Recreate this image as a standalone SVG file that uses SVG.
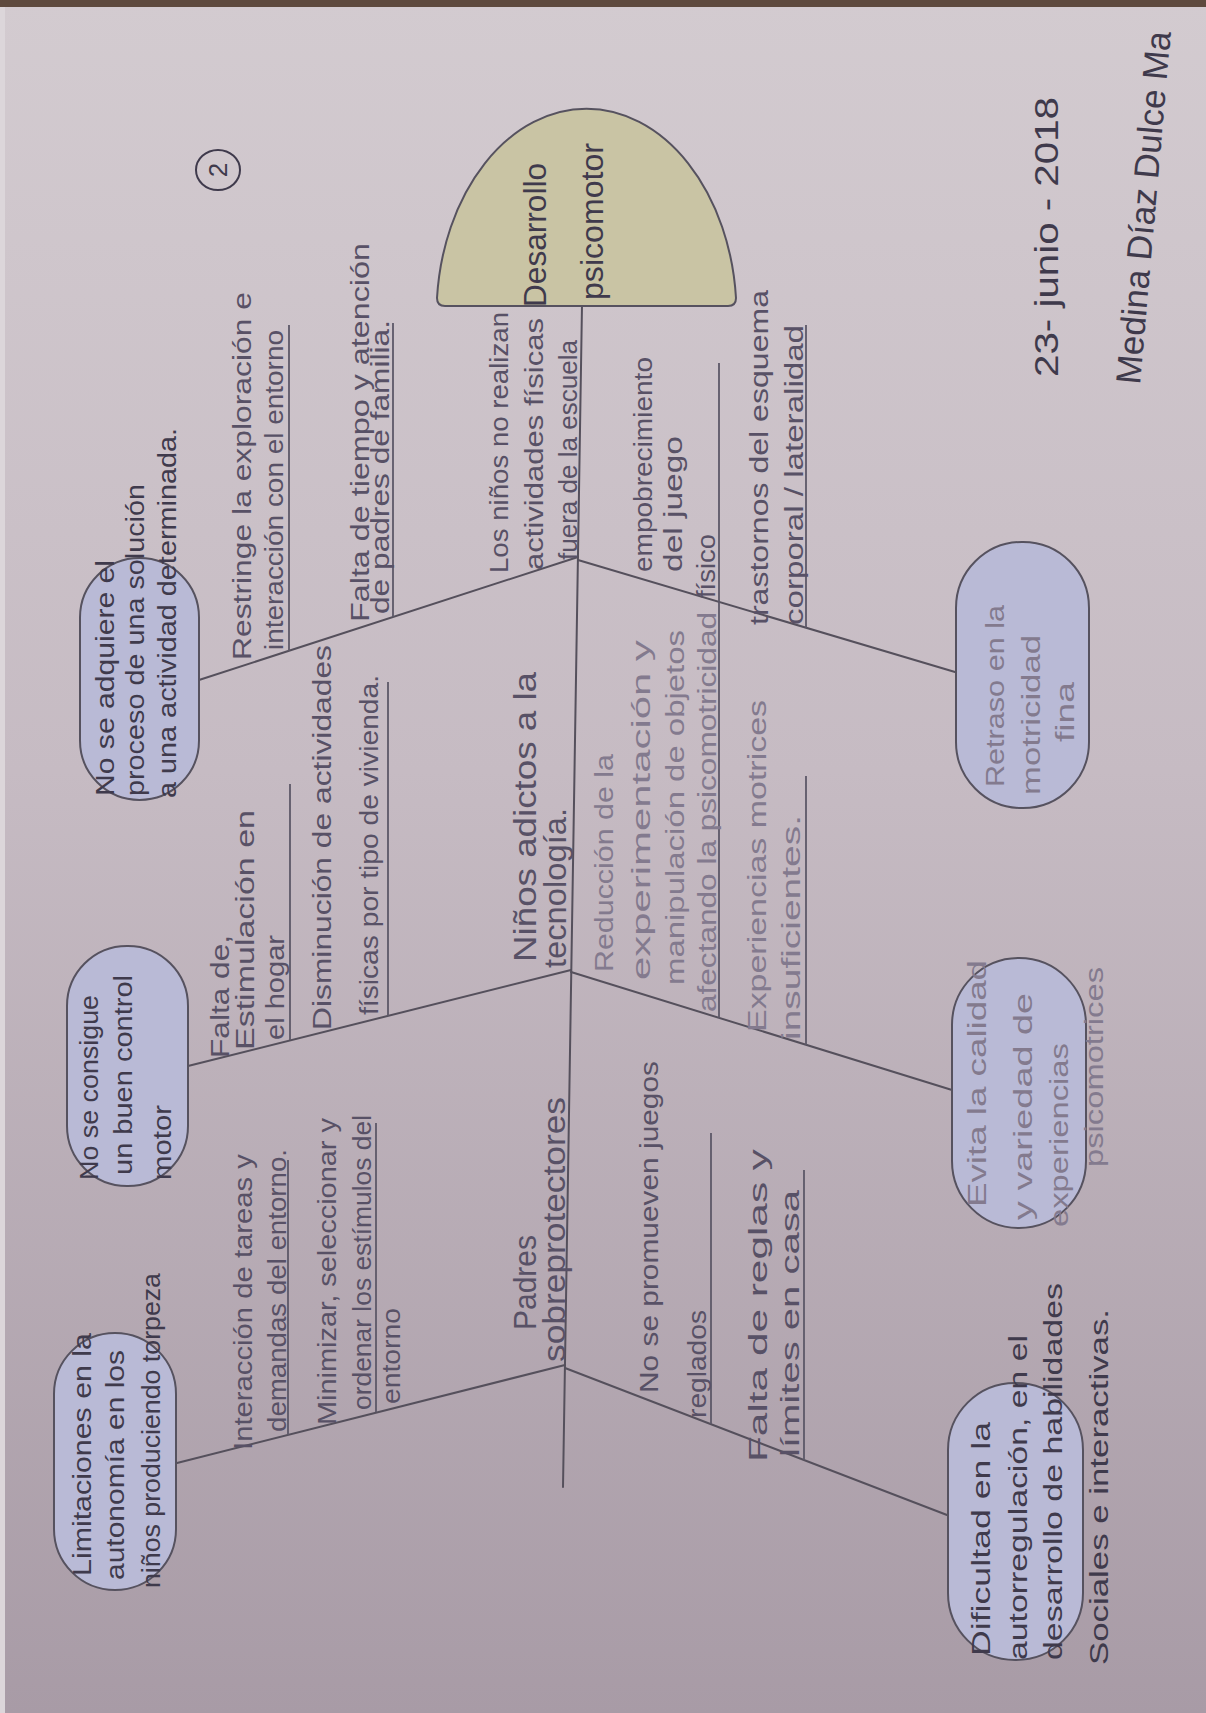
<svg xmlns="http://www.w3.org/2000/svg" width="1206" height="1713" viewBox="0 0 1206 1713">
<defs>
<linearGradient id="paper" x1="0" y1="0" x2="0" y2="1">
<stop offset="0" stop-color="#d3cbd0"/>
<stop offset="0.45" stop-color="#c6bbc3"/>
<stop offset="1" stop-color="#a89ba6"/>
</linearGradient>
<style>
.t{font-family:"Liberation Sans",Arial,sans-serif;font-size:26px;fill:#585166}
.d{fill:#3f3a4c}
.f{fill:#837a8e}
.big{font-size:31px}
.pill{fill:#b9bad6;stroke:#56525f;stroke-width:2}
.ln{stroke:#55505c;stroke-width:2;fill:none;stroke-linecap:round}
.ul{stroke:#5d5868;stroke-width:1.8;fill:none}
</style>
</defs>
<rect x="0" y="0" width="1206" height="1713" fill="url(#paper)"/>
<rect x="0" y="0" width="1206" height="7" fill="#5e4a3e"/>
<rect x="0" y="7" width="5" height="1706" fill="#dcd6da"/>

<g id="connectors">
<line class="ln" x1="582" y1="305" x2="563" y2="1487"/>
<line class="ln" x1="199" y1="680" x2="578" y2="557"/>
<line class="ln" x1="578" y1="560" x2="955" y2="672"/>
<line class="ln" x1="188" y1="1066" x2="571" y2="970"/>
<line class="ln" x1="571" y1="972" x2="952" y2="1090"/>
<line class="ln" x1="177" y1="1463" x2="565" y2="1365"/>
<line class="ln" x1="565" y1="1368" x2="947" y2="1515"/>
<line class="ul" x1="289" y1="651" x2="289" y2="325"/>
<line class="ul" x1="393" y1="617" x2="393" y2="323"/>
<line class="ul" x1="719" y1="602" x2="719" y2="363"/>
<line class="ul" x1="806" y1="628" x2="806" y2="325"/>
<line class="ul" x1="290" y1="1040" x2="290" y2="784"/>
<line class="ul" x1="388" y1="1016" x2="388" y2="682"/>
<line class="ul" x1="719" y1="1018" x2="719" y2="602"/>
<line class="ul" x1="806" y1="1045" x2="806" y2="776"/>
<line class="ul" x1="288" y1="1435" x2="288" y2="1160"/>
<line class="ul" x1="376" y1="1412" x2="376" y2="1123"/>
<line class="ul" x1="711" y1="1424" x2="711" y2="1133"/>
<line class="ul" x1="804" y1="1460" x2="804" y2="1170"/>
</g>

<g id="head">
<path d="M437,298 A150,206 0 0 1 736,298 Q736,306 728,306 L445,306 Q437,306 437,298 Z" fill="#c9c4a4" stroke="#56525f" stroke-width="2"/>
<text class="t d big" transform="translate(546,307) rotate(-90)" textLength="144" lengthAdjust="spacingAndGlyphs">Desarrollo</text>
<text class="t d big" transform="translate(603,300) rotate(-90)" textLength="157" lengthAdjust="spacingAndGlyphs">psicomotor</text>
</g>

<g id="cause-adquiere">
<rect class="pill" x="80" y="558" width="119" height="242" rx="59.5"/>
<text class="t d" transform="translate(114,796) rotate(-90)" textLength="236" lengthAdjust="spacingAndGlyphs">No se adquiere el</text>
<text class="t d" transform="translate(144,796) rotate(-90)" textLength="312" lengthAdjust="spacingAndGlyphs">proceso de una solución</text>
<text class="t d" transform="translate(176,798) rotate(-90)" textLength="370" lengthAdjust="spacingAndGlyphs">a una actividad determinada.</text>
</g>

<g id="cause-retraso">
<rect class="pill" x="956" y="542" width="133" height="266" rx="66"/>
<text class="t f" transform="translate(1004,787) rotate(-90)" textLength="182" lengthAdjust="spacingAndGlyphs">Retraso en la</text>
<text class="t f" transform="translate(1040,795) rotate(-90)" textLength="160" lengthAdjust="spacingAndGlyphs">motricidad</text>
<text class="t f" transform="translate(1074,742) rotate(-90)" textLength="60" lengthAdjust="spacingAndGlyphs">fina</text>
</g>

<g id="cause-control">
<rect class="pill" x="67" y="946" width="121" height="240" rx="60"/>
<text class="t d" transform="translate(98,1180) rotate(-90)" textLength="185" lengthAdjust="spacingAndGlyphs">No se consigue</text>
<text class="t d" transform="translate(132,1175) rotate(-90)" textLength="200" lengthAdjust="spacingAndGlyphs">un buen control</text>
<text class="t d" transform="translate(171,1180) rotate(-90)" textLength="75" lengthAdjust="spacingAndGlyphs">motor</text>
</g>

<g id="cause-evita">
<rect class="pill" x="952" y="958" width="134" height="270" rx="67"/>
<text class="t f" transform="translate(986,1207) rotate(-90)" textLength="247" lengthAdjust="spacingAndGlyphs">Evita la calidad</text>
<text class="t f" transform="translate(1032,1220) rotate(-90)" textLength="227" lengthAdjust="spacingAndGlyphs">y variedad de</text>
<text class="t f" transform="translate(1068,1227) rotate(-90)" textLength="184" lengthAdjust="spacingAndGlyphs">experiencias</text>
<text class="t f" transform="translate(1103,1167) rotate(-90)" textLength="200" lengthAdjust="spacingAndGlyphs">psicomotrices</text>
</g>

<g id="cause-limitaciones">
<rect class="pill" x="54" y="1333" width="122" height="257" rx="61"/>
<text class="t d" transform="translate(91,1576) rotate(-90)" textLength="243" lengthAdjust="spacingAndGlyphs">Limitaciones en la</text>
<text class="t d" transform="translate(124,1580) rotate(-90)" textLength="230" lengthAdjust="spacingAndGlyphs">autonomía en los</text>
<text class="t d" transform="translate(160,1588) rotate(-90)" textLength="315" lengthAdjust="spacingAndGlyphs">niños produciendo torpeza</text>
</g>

<g id="cause-dificultad">
<rect class="pill" x="948" y="1383" width="135" height="277" rx="67"/>
<text class="t d" transform="translate(990,1656) rotate(-90)" textLength="234" lengthAdjust="spacingAndGlyphs">Dificultad en la</text>
<text class="t d" transform="translate(1027,1660) rotate(-90)" textLength="325" lengthAdjust="spacingAndGlyphs">autorregulación, en el</text>
<text class="t d" transform="translate(1062,1660) rotate(-90)" textLength="377" lengthAdjust="spacingAndGlyphs">desarrollo de habilidades</text>
<text class="t d" transform="translate(1108,1665) rotate(-90)" textLength="356" lengthAdjust="spacingAndGlyphs">Sociales e interactivas.</text>
</g>

<g id="sub-restringe">
<text class="t" transform="translate(251,660) rotate(-90)" textLength="368" lengthAdjust="spacingAndGlyphs">Restringe la exploración e</text>
<text class="t" transform="translate(283,650) rotate(-90)" textLength="320" lengthAdjust="spacingAndGlyphs">interacción con el entorno</text>
</g>
<g id="sub-falta-tiempo">
<text class="t" transform="translate(369,622) rotate(-90)" textLength="379" lengthAdjust="spacingAndGlyphs">Falta de tiempo y atención</text>
<text class="t" transform="translate(389,614) rotate(-90)" textLength="294" lengthAdjust="spacingAndGlyphs">de padres de familia.</text>
</g>
<g id="sub-no-realizan">
<text class="t" transform="translate(508,573) rotate(-90)" textLength="261" lengthAdjust="spacingAndGlyphs">Los niños no realizan</text>
<text class="t" transform="translate(543,570) rotate(-90)" textLength="252" lengthAdjust="spacingAndGlyphs">actividades físicas</text>
<text class="t" transform="translate(577,560) rotate(-90)" textLength="220" lengthAdjust="spacingAndGlyphs">fuera de la escuela</text>
</g>
<g id="sub-empobrecimiento">
<text class="t" transform="translate(652,572) rotate(-90)" textLength="215" lengthAdjust="spacingAndGlyphs">empobrecimiento</text>
<text class="t" transform="translate(682,572) rotate(-90)" textLength="136" lengthAdjust="spacingAndGlyphs">del juego</text>
<text class="t" transform="translate(715,598) rotate(-90)" textLength="64" lengthAdjust="spacingAndGlyphs">físico</text>
</g>
<g id="sub-trastornos">
<text class="t" transform="translate(768,625) rotate(-90)" textLength="335" lengthAdjust="spacingAndGlyphs">trastornos del esquema</text>
<text class="t" transform="translate(803,625) rotate(-90)" textLength="300" lengthAdjust="spacingAndGlyphs">corporal / lateralidad</text>
</g>
<g id="sub-estimulacion">
<text class="t" transform="translate(229,1058) rotate(-90)" textLength="123" lengthAdjust="spacingAndGlyphs">Falta de,</text>
<text class="t" transform="translate(254,1050) rotate(-90)" textLength="240" lengthAdjust="spacingAndGlyphs">Estimulación en</text>
<text class="t" transform="translate(284,1040) rotate(-90)" textLength="105" lengthAdjust="spacingAndGlyphs">el hogar</text>
</g>
<g id="sub-disminucion">
<text class="t" transform="translate(331,1030) rotate(-90)" textLength="385" lengthAdjust="spacingAndGlyphs">Disminución de actividades</text>
<text class="t" transform="translate(378,1015) rotate(-90)" textLength="340" lengthAdjust="spacingAndGlyphs">físicas por tipo de vivienda.</text>
</g>
<g id="sub-tecnologia">
<text class="t big" transform="translate(536,962) rotate(-90)" textLength="290" lengthAdjust="spacingAndGlyphs">Niños adictos a la</text>
<text class="t big" transform="translate(566,968) rotate(-90)" textLength="160" lengthAdjust="spacingAndGlyphs">tecnología.</text>
</g>
<g id="sub-reduccion">
<text class="t f" transform="translate(613,972) rotate(-90)" textLength="218" lengthAdjust="spacingAndGlyphs">Reducción de la</text>
<text class="t f" transform="translate(650,980) rotate(-90)" textLength="340" lengthAdjust="spacingAndGlyphs">experimentación y</text>
<text class="t f" transform="translate(684,985) rotate(-90)" textLength="355" lengthAdjust="spacingAndGlyphs">manipulación de objetos</text>
<text class="t f" transform="translate(716,1012) rotate(-90)" textLength="400" lengthAdjust="spacingAndGlyphs">afectando la psicomotricidad</text>
</g>
<g id="sub-experiencias">
<text class="t f" transform="translate(766,1032) rotate(-90)" textLength="332" lengthAdjust="spacingAndGlyphs">Experiencias motrices</text>
<text class="t f" transform="translate(800,1040) rotate(-90)" textLength="225" lengthAdjust="spacingAndGlyphs">insuficientes.</text>
</g>
<g id="sub-interaccion">
<text class="t" transform="translate(252,1450) rotate(-90)" textLength="296" lengthAdjust="spacingAndGlyphs">Interacción de tareas y</text>
<text class="t" transform="translate(286,1432) rotate(-90)" textLength="283" lengthAdjust="spacingAndGlyphs">demandas del entorno.</text>
</g>
<g id="sub-minimizar">
<text class="t" transform="translate(336,1425) rotate(-90)" textLength="307" lengthAdjust="spacingAndGlyphs">Minimizar, seleccionar y</text>
<text class="t" transform="translate(371,1410) rotate(-90)" textLength="295" lengthAdjust="spacingAndGlyphs">ordenar los estímulos del</text>
<text class="t" transform="translate(400,1404) rotate(-90)" textLength="96" lengthAdjust="spacingAndGlyphs">entorno</text>
</g>
<g id="sub-padres">
<text class="t big" transform="translate(536,1330) rotate(-90)" textLength="95" lengthAdjust="spacingAndGlyphs">Padres</text>
<text class="t big" transform="translate(565,1362) rotate(-90)" textLength="265" lengthAdjust="spacingAndGlyphs">sobreprotectores</text>
</g>
<g id="sub-juegos">
<text class="t" transform="translate(658,1393) rotate(-90)" textLength="332" lengthAdjust="spacingAndGlyphs">No se promueven juegos</text>
<text class="t" transform="translate(706,1418) rotate(-90)" textLength="108" lengthAdjust="spacingAndGlyphs">reglados</text>
</g>
<g id="sub-reglas">
<text class="t" transform="translate(767,1462) rotate(-90)" textLength="313" lengthAdjust="spacingAndGlyphs">Falta de reglas y</text>
<text class="t" transform="translate(799,1457) rotate(-90)" textLength="267" lengthAdjust="spacingAndGlyphs">límites en casa</text>
</g>

<g id="page-number">
<ellipse cx="218" cy="170" rx="22" ry="20" fill="none" stroke="#3f3a4c" stroke-width="2"/>
<text class="t d" transform="translate(227,170) rotate(-90)" text-anchor="middle" font-size="24">2</text>
</g>
<g id="date">
<text class="t d" style="font-size:34px" transform="translate(1058,377) rotate(-90)" textLength="280" lengthAdjust="spacingAndGlyphs">23- junio - 2018</text>
</g>
<g id="signature">
<text class="t d" style="font-size:35px" transform="translate(1140,385) rotate(-85)">Medina Díaz Dulce Ma</text>
</g>
</svg>
